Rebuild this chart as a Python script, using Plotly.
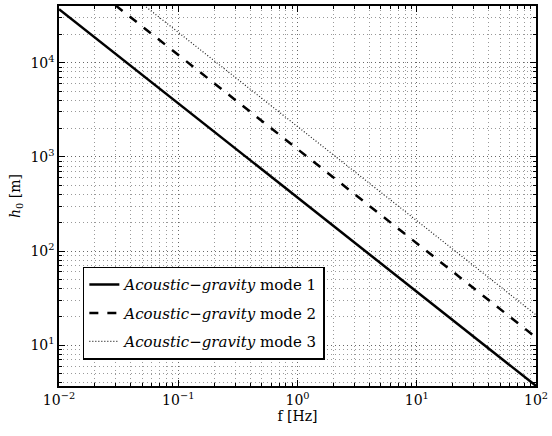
import plotly.graph_objects as go

# Data
freq_hz = [0.01, 0.1, 1, 10, 100]
h0_mode1 = [37000, 3700, 370, 37, 3.7]
h0_mode2 = [121000, 12100, 1210, 121, 12.1]
h0_mode3 = [210000, 21000, 2100, 210, 21]
series_names = [
    "<i>Acoustic−gravity</i> mode 1",
    "<i>Acoustic−gravity</i> mode 2",
    "<i>Acoustic−gravity</i> mode 3",
]
x_tickvals = [0.01, 0.1, 1, 10, 100]
x_ticktext = ["10<sup>−2</sup>", "10<sup>−1</sup>", "10<sup>0</sup>", "10<sup>1</sup>", "10<sup>2</sup>"]
y_tickvals = [10, 100, 1000, 10000]
y_ticktext = ["10<sup>1</sup>", "10<sup>2</sup>", "10<sup>3</sup>", "10<sup>4</sup>"]

FONT = "DejaVu Serif"

# minor positions 2..9 x 10^k
x_minor = [m * 10.0 ** k for k in range(-2, 2) for m in range(2, 10)]
y_minor = [m * 10.0 ** k for k in range(0, 5) for m in range(2, 10)]

fig = go.Figure()
styles = [("solid", 2.5, "black"), ("dash", 2.5, "black"), ("1px,2px", 1.2, "#222222")]
for i, (ys, name, (dash, w, c)) in enumerate(zip([h0_mode1, h0_mode2, h0_mode3], series_names, styles)):
    fig.add_trace(go.Scatter(x=freq_hz, y=ys, mode="lines", name=name, legendgroup=f"g{i}",
                             line=dict(color=c, width=w, dash=dash)))

axis_common = dict(
    type="log", tickmode="array",
    ticks="inside", ticklen=6, tickcolor="black",
    showline=True, linecolor="black", linewidth=1.5, mirror="allticks",
    showgrid=True, gridcolor="#666666", griddash="1px,3px", gridwidth=1,
    tickfont=dict(family=FONT, size=14, color="black"),
    ticklabeloverflow="allow",
    zeroline=False,
)
minor_common = dict(tickmode="array", ticks="inside", ticklen=3, tickcolor="black", showgrid=True,
                    gridcolor="#999999", griddash="1px,3px", gridwidth=1)
fig.update_xaxes(
    range=[-2, 2], tickvals=x_tickvals, ticktext=x_ticktext,
    minor=dict(tickvals=x_minor, **minor_common),
    title=dict(text="f [Hz]", standoff=4, font=dict(family=FONT, size=14, color="black")),
    **axis_common,
)
fig.update_yaxes(
    range=[0.567, 4.602], tickvals=y_tickvals, ticktext=y_ticktext,
    minor=dict(tickvals=y_minor, **minor_common),
    title=dict(text="<i>h</i><sub>0</sub> [m]", standoff=6, font=dict(family=FONT, size=14, color="black")),
    **axis_common,
)
fig.update_layout(
    width=552, height=436,
    margin=dict(l=59, r=11, t=4, b=50),
    plot_bgcolor="white", paper_bgcolor="white",
    font=dict(family=FONT, size=14, color="black"),
    legend=dict(x=0.05, y=0.314, xanchor="left", yanchor="top",
                bgcolor="white", bordercolor="black", borderwidth=1.5,
                font=dict(family=FONT, size=15, color="black"),
                tracegroupgap=6),
    showlegend=True,
)
fig.write_html("out.html")
